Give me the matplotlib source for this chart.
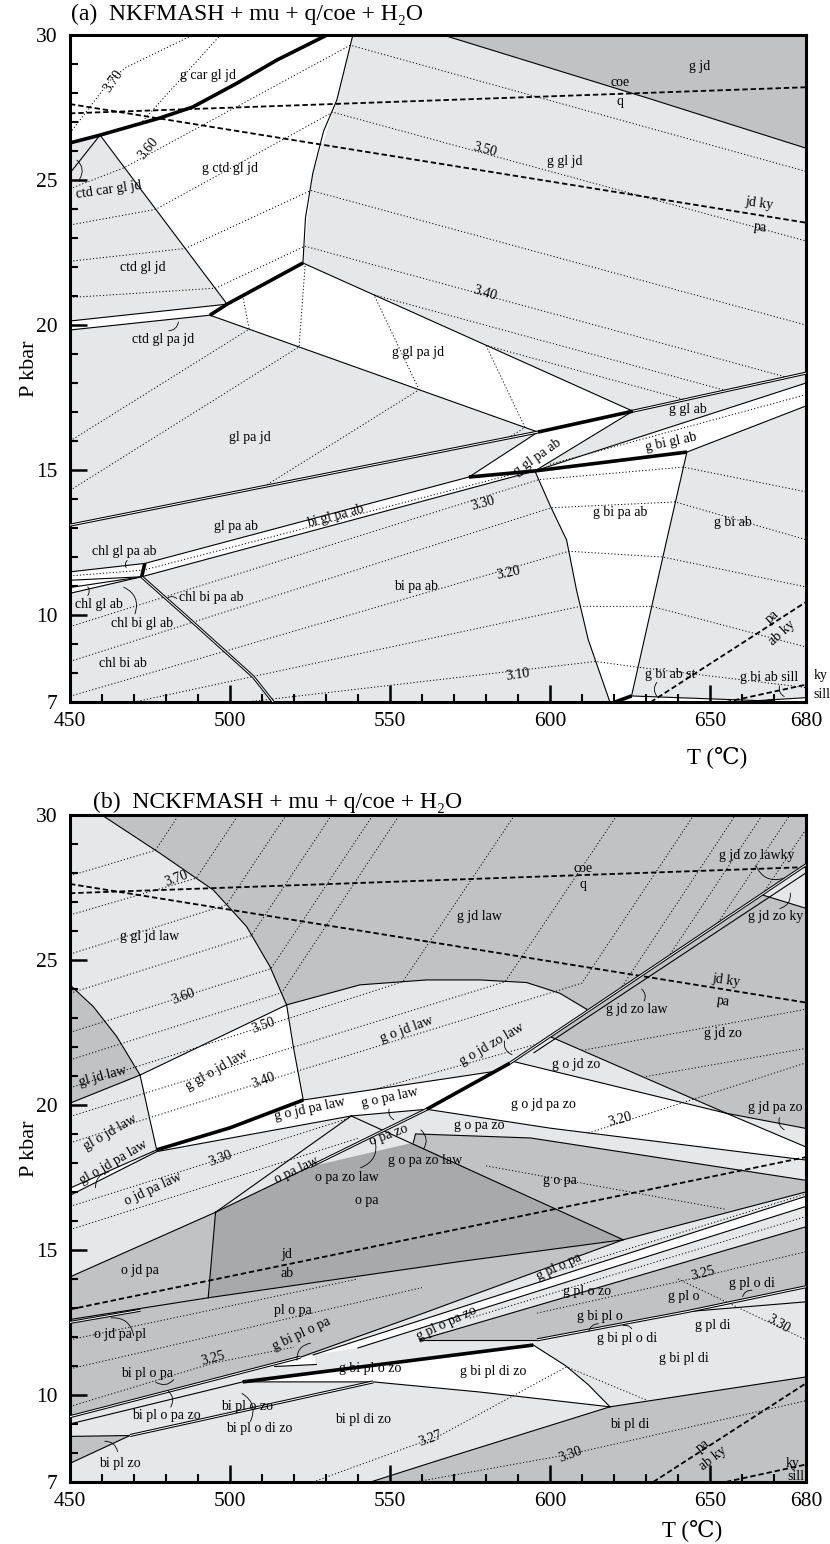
import numpy as np
import matplotlib
matplotlib.use("Agg")
import matplotlib.pyplot as plt
from matplotlib.patches import Polygon

plt.rcParams['font.family'] = ['Liberation Serif', 'DejaVu Serif', 'DejaVu Sans']

WHITE = '#ffffff'
LIGHT = '#e6e7e9'
MID = '#c1c2c4'
DARK = '#a8a9ab'

# ---------------- panel (a) : NKFMASH ----------------
# field polygons (T degC, P kbar)
a_g_car_gl_jd = [(450, 26.28), (459.4, 26.55), (478.1, 27.14), (488.4, 27.52), (502.2, 28.34),
                 (514.7, 29.14), (530.3, 30), (450, 30)]
a_g_ctd_gl_jd = [(459.4, 26.55), (478.1, 27.14), (488.4, 27.52), (502.2, 28.34), (514.7, 29.14),
                 (530.3, 30), (538.4, 30), (533.4, 27.76), (525.9, 25.24), (522.8, 22.14), (499.1, 20.72)]
a_ctd_gl_pa_jd = [(450, 20.14), (499.1, 20.72), (493.75, 20.34), (450, 19.83)]
a_g_gl_pa_jd = [(493.75, 20.34), (499.1, 20.72), (522.8, 22.14), (625.9, 17.03), (596.25, 16.31)]
a_g_gl_pa_ab = [(574.7, 14.76), (596.25, 16.31), (625.9, 17.03), (595.3, 14.97)]
a_g_bi_gl_ab = [(595.3, 14.97), (680, 18.0), (680, 17.21), (642.8, 15.62)]
a_bi_gl_pa_ab = [(473.4, 11.78), (574.7, 14.76), (595.3, 14.97), (472.4, 11.32)]
a_chl_strip = [(450, 11.49), (473.4, 11.78), (472.4, 11.32), (450, 10.75)]
a_g_bi_pa_ab = [(595.3, 14.97), (642.8, 15.62), (636.5, 12.59), (625.5, 7.21), (620.3, 7.0),
                (618.75, 7.0), (612, 9.14), (608.3, 10.86), (605.2, 12.59), (600, 13.79)]
a_g_bi_ab_st = [(625.5, 7.21), (665, 7.05), (680, 7.15), (680, 7.0), (620.3, 7.0)]
a_g_jd = [(566.6, 30), (680, 30), (680, 26.1), (631.3, 27.8)]

# boundaries
a_thick = [
    [(450, 26.28), (459.4, 26.55), (478.1, 27.14), (488.4, 27.52), (502.2, 28.34), (514.7, 29.14), (530.3, 30)],
    [(493.75, 20.34), (499.1, 20.72), (522.8, 22.14)],
    [(596.25, 16.31), (625.9, 17.03)],
    [(574.7, 14.76), (595.3, 14.97), (642.8, 15.62)],
    [(473.4, 11.78), (472.4, 11.32)],
    [(625.5, 7.21), (620.3, 7.0)],
    [(665.6, 6.97), (669.7, 7.05)],
]
a_thin = [
    [(459.4, 26.55), (450, 25.24)],
    [(459.4, 26.55), (499.1, 20.72)],
    [(450, 20.14), (499.1, 20.72)],
    [(450, 19.83), (493.75, 20.34)],
    [(522.8, 22.14), (523.6, 23.7), (525.9, 25.24), (529.3, 26.7), (533.4, 27.76), (538.4, 30)],
    [(522.8, 22.14), (625.9, 17.03)],
    [(493.75, 20.34), (596.25, 16.31)],
    [(574.7, 14.76), (596.25, 16.31)],
    [(625.9, 17.03), (595.3, 14.97)],
    [(595.3, 14.97), (680, 18.0)],
    [(642.8, 15.62), (680, 17.21)],
    [(473.4, 11.78), (574.7, 14.76)],
    [(472.4, 11.32), (595.3, 14.97)],
    [(450, 11.49), (473.4, 11.78)],
    [(450, 11.2), (472.4, 11.32)],
    [(450, 10.95), (472.4, 11.32)],
    [(450, 10.75), (472.4, 11.32)],
    [(595.3, 14.97), (600, 13.79), (605.2, 12.59), (608.3, 10.86), (612, 9.14), (618.75, 7.0)],
    [(642.8, 15.62), (636.5, 12.59), (625.5, 7.21)],
    [(625.5, 7.21), (665, 7.05), (680, 7.15)],
    [(566.6, 30), (631.3, 27.8), (680, 26.1)],
]
a_double = [
    [(450, 13.10), (596.25, 16.31)],
    [(625.9, 17.03), (680, 18.34)],
    [(472.4, 11.32), (486.5, 9.94), (507.3, 7.87), (513.5, 7.0)],
]
# reaction lines
coe_q = [(450, 27.3), (680, 28.2)]
jdky_pa = [(450, 27.62), (680, 23.53)]
pa_abky = [(631.5, 7.0), (680, 10.45)]
ky_sill = [(655, 7.0), (680, 7.6)]
jd_ab = [(450, 12.95), (680, 18.2)]

# Si-in-phengite isopleths (a)
a_iso = [
    [(450, 26.62), (463, 28.5), (467.8, 28.9), (488.4, 30)],
    [(472, 26.94), (497, 30)],
    [(450, 24.7), (467, 25.43), (537.6, 29.65), (680, 25.3)],
    [(450, 23.45), (476.8, 23.99), (532.1, 27.34), (680, 22.9)],
    [(450, 22.2), (486, 22.64), (525.3, 24.64), (680, 20.0)],
    [(450, 20.95), (495.5, 21.27), (523.4, 22.72), (674, 18.2)],
    [(450, 16.0), (506, 19.86), (504, 21.0)],
    [(450, 14.3), (521.6, 19.25), (523.5, 22.08)],
    [(510.8, 14.44), (559.1, 17.77), (545, 21.04), (655, 17.74)],
    [(587, 16.11), (592.2, 16.47), (580, 19.3), (642.3, 17.42)],
    [(450, 11.35), (473, 11.55), (590, 14.9)],
    [(600, 15.2), (680, 17.6)],
    [(450, 9.6), (596.5, 14.67), (641.7, 15.1), (680, 14.25)],
    [(450, 8.4), (600.4, 13.7), (639.2, 13.9), (680, 12.6)],
    [(450, 7.2), (605.9, 12.2), (635.3, 12.0), (680, 10.97)],
    [(470, 7.0), (609.5, 10.3), (631.8, 10.3), (680, 8.9)],
    [(505, 7.0), (614.3, 8.4), (627.5, 8.2), (680, 7.5)],
]
# labels: (text, T, P, rotation)
a_labels = [
    ('g car gl jd', 493, 28.6, 0), ('3.70', 463.5, 28.4, 55), ('3.60', 474.5, 26.1, 50),
    ('g ctd gl jd', 500, 25.4, 0), ('ctd car gl jd', 462, 24.65, 8), ('ctd gl jd', 472.8, 21.97, 0),
    ('ctd gl pa jd', 479, 19.5, 0), ('g gl pa jd', 558.75, 19.07, 0), ('g gl jd', 604.7, 25.63, 0),
    ('g jd', 646.9, 28.93, 0), ('coe', 622, 28.35, 0), ('q', 622, 27.7, 0),
    ('3.50', 579.7, 26.05, -15), ('3.40', 579.7, 21.1, -17), ('jd ky', 665.6, 24.2, -8),
    ('pa', 665.6, 23.35, -8), ('gl pa jd', 506.25, 16.13, 0), ('gl pa ab', 501.9, 13.05, 0),
    ('g gl pa ab', 596, 15.45, 35), ('g gl ab', 643, 17.1, 0), ('g bi gl ab', 638, 15.95, 12),
    ('bi gl pa ab', 533, 13.4, 15), ('3.30', 579, 13.85, 15), ('g bi pa ab', 621.9, 13.52, 0),
    ('g bi ab', 657.2, 13.2, 0), ('bi pa ab', 558, 11.0, 0), ('3.20', 587, 11.45, 12),
    ('3.10', 590, 7.95, 8), ('chl gl pa ab', 467, 12.2, 0), ('chl gl ab', 459, 10.35, 0),
    ('chl bi gl ab', 472.5, 9.7, 0), ('chl bi pa ab', 494, 10.6, 0), ('chl bi ab', 466.7, 8.33, 0),
    ('g bi ab st', 637.5, 7.95, 0), ('g bi ab sill', 668.5, 7.85, 0),
    ('pa', 669.5, 9.95, 42), ('ab ky', 672.5, 9.4, 42),
]
a_leaders = [((452.5, 24.95), (451.5, 25.75)), ((480, 19.8), (484, 20.2)), ((468.5, 11.95), (468, 11.55)),
             ((455, 10.6), (455, 11.05)), ((470, 9.95), (466, 11.0)), ((484, 10.5), (480, 10.55)),
             ((634, 7.75), (634, 7.13)), ((672, 7.65), (674, 7.15))]
a_outside = [('ky', 682.4, 7.9), ('sill', 682.4, 7.25)]

# ---------------- panel (b) : NCKFMASH ----------------
b_g_jd_law = [(459.9, 30), (680, 30), (680, 28.28), (611.5, 23.25), (603.1, 23.85), (592.7, 24.22),
              (578.1, 24.31), (561.5, 24.31), (540.6, 24.14), (517.7, 23.45), (512.5, 24.77),
              (505.2, 26.15), (494.8, 27.41), (478.1, 28.68)]
b_gl_jd_law = [(450, 24.14), (457.3, 23.39), (464.6, 22.36), (471.9, 21.03), (450, 20.06)]
b_g_gl_o_jd_law = [(471.9, 21.03), (517.7, 23.45), (519.8, 22.01), (522.9, 20.17), (500, 19.21),
                   (477.1, 18.45), (475, 19.48)]
b_gl_o_jd_pa_law = [(450, 17.13), (477.1, 18.45), (450, 16.88)]
b_g_o_pa_law = [(477.1, 18.45), (500, 19.21), (522.9, 20.17), (582.3, 21.15), (561.5, 19.85),
                (537.9, 19.62), (477.1, 18.39)]
b_o_jd_pa = [(450, 14.07), (495.5, 16.3), (493.2, 13.35), (450, 12.6)]
b_o_pa = [(495.5, 16.3), (525, 17.87), (557.3, 18.7), (622.9, 15.35), (571.9, 14.6), (493.2, 13.35)]
b_g_o_pa = [(558, 19.0), (594, 18.86), (680, 17.4), (680, 17.0), (622.9, 15.35), (557.3, 18.7)]
b_g_o_jd_pa_zo = [(561.5, 19.85), (587.5, 21.44), (588.5, 21.5), (655.2, 19.71), (680, 18.55),
                  (680, 18.1), (600, 19.2)]
b_g_jd_zo = [(600, 22.36), (666.7, 27.23), (680, 26.78), (680, 19.19), (655.2, 19.71)]
b_pl_o_pa = [(450, 12.6), (493.2, 13.35), (571.9, 14.6), (622.9, 15.35), (560, 12.8), (522, 11.3), (450, 9.25)]
b_g_pl_o_pa_zo = [(526, 11.38), (680, 16.85), (680, 16.5), (540, 11.62)]
b_g_pl_o = [(559.4, 11.9), (680, 15.8), (680, 13.73), (642.7, 12.87), (596, 11.9)]
b_g_bi_pl_zo = [(504, 10.45), (594.8, 11.72), (605, 11.0), (612, 10.35), (618.75, 9.59),
                (578.1, 10.1), (544.8, 10.45)]
b_g_bi_pl_o_pa = [(514, 10.98), (526, 11.38), (527, 11.05)]
b_bi_pl_zo = [(450, 8.57), (468.75, 8.6), (450, 7.64)]
b_bi_pl_di = [(544, 7.0), (565.6, 7.76), (618.75, 9.59), (680, 10.62), (680, 7.0)]

b_thick = [
    [(477.1, 18.45), (500, 19.21), (522.9, 20.17)],
    [(561.5, 19.85), (587.5, 21.44)],
    [(504, 10.45), (594.8, 11.72)],
]
b_thin = [
    [(459.9, 30.0), (478.1, 28.68), (494.8, 27.41), (505.2, 26.15), (512.5, 24.77), (517.7, 23.45)],
    [(517.7, 23.45), (540.6, 24.14), (561.5, 24.31), (578.1, 24.31), (592.7, 24.22), (603.1, 23.85), (611.5, 23.3)],
    [(450, 24.14), (457.3, 23.39), (464.6, 22.36), (471.9, 21.03)],
    [(450, 20.06), (471.9, 21.03)],
    [(471.9, 21.03), (517.7, 23.45)],
    [(471.9, 21.03), (475, 19.48), (477.1, 18.45)],
    [(517.7, 23.45), (519.8, 22.01), (522.9, 20.17)],
    [(450, 17.13), (477.1, 18.45)],
    [(450, 16.88), (477.1, 18.39)],
    [(522.9, 20.17), (582.3, 21.15)],
    [(477.1, 18.39), (537.9, 19.62), (561.5, 19.85)],
    [(495.5, 16.3), (537.9, 19.62)],
    [(495.5, 16.3), (525, 17.87)],
    [(450, 14.07), (495.5, 16.3)],
    [(495.5, 16.3), (493.2, 13.35)],
    [(450, 12.6), (493.2, 13.35), (571.9, 14.6), (622.9, 15.35)],
    [(537.9, 19.62), (622.9, 15.35)],
    [(561.5, 19.85), (600, 19.2), (680, 18.1)],
    [(557.3, 18.7), (558, 19.0), (594, 18.86), (680, 17.4)],
    [(588.5, 21.5), (655.2, 19.71), (680, 19.19)],
    [(600, 22.36), (655.2, 19.71)],
    [(655.2, 19.71), (680, 18.55)],
    [(666.7, 27.23), (680, 26.78)],
    [(595, 21.8), (680, 28.0)],
    [(522, 11.3), (560, 12.8), (622.9, 15.35), (680, 17.0)],
    [(526, 11.38), (680, 16.85)],
    [(540, 11.62), (680, 16.5)],
    [(559.4, 11.9), (680, 15.8)],
    [(559.4, 11.9), (596, 11.9)],
    [(642.7, 12.87), (680, 13.21)],
    [(594.8, 11.72), (605, 11.0), (612, 10.35), (618.75, 9.59)],
    [(504, 10.45), (544.8, 10.45), (578.1, 10.1), (618.75, 9.59)],
    [(544, 7.0), (565.6, 7.76), (618.75, 9.59), (680, 10.62)],
    [(450, 8.57), (468.75, 8.6)],
    [(450, 7.64), (468.75, 8.6)],
    [(450, 9.0), (504, 10.45)],
    [(514, 10.98), (527, 11.05)],
]
b_double = [
    [(587.5, 21.44), (680, 28.28)],
    [(525, 17.87), (561.5, 19.85)],
    [(596, 11.9), (642.7, 12.87), (680, 13.73)],
    [(468.75, 8.6), (544.8, 10.45)],
    [(450, 9.25), (522, 11.3)],
    [(450, 12.5), (472, 12.92)],
]
pa_abky_b = [(632.3, 7.0), (680, 10.4)]
b_iso = [
    [(450, 27.9), (476.7, 28.78), (484, 30)],
    [(450, 26.55), (489.5, 27.82), (502.6, 30)],
    [(450, 25.2), (498.9, 26.9), (517.6, 30)],
    [(450, 23.85), (506.7, 25.84), (531.8, 30)],
    [(450, 22.5), (512.8, 24.7), (544.7, 30)],
    [(450, 21.55), (516.2, 23.87), (553, 30)],
    [(450, 20.59), (517.7, 22.96), (554, 24.25), (589, 30)],
    [(450, 19.6), (519.8, 21.99), (586, 24.25), (621, 30)],
    [(450, 18.69), (522.9, 21.23), (610, 24.2), (645, 30)],
    [(545, 20.53), (596, 22.1)],
    [(622, 23.99), (658, 30)],
    [(637, 25.1), (666.4, 30)],
    [(652, 26.2), (675, 30)],
    [(666, 27.2), (680, 29.5)],
    [(450, 16.5), (537.5, 19.55)],
    [(450, 15.7), (540, 18.85)],
    [(580, 17.9), (655, 16.4)],
    [(612, 19.03), (680, 21.45)],
    [(630, 20.98), (680, 21.95)],
    [(610, 21.88), (680, 23.3)],
    [(450, 9.6), (494.8, 11.1), (520, 11.65)],
    [(450, 10.9), (560, 13.7)],
    [(450, 11.9), (540, 14.0)],
    [(600, 14.2), (680, 16.93)],
    [(575, 12.65), (680, 16.15)],
    [(596, 12.82), (648, 14.1), (680, 14.94)],
    [(640, 14.0), (658.3, 13.04), (680, 11.9)],
    [(526, 7.0), (565.6, 8.6), (605.2, 10.97), (630, 9.83)],
    [(558, 7.0), (606, 7.95), (680, 9.8)],
]
b_labels = [
    ('g gl jd law', 475, 25.8, 0), ('3.70', 483.3, 27.8, 20), ('3.60', 485.4, 23.75, 20),
    ('g jd law', 578, 26.5, 0), ('gl jd law', 460.4, 21.0, 15), ('g gl o jd law', 496, 21.2, 30),
    ('3.50', 510.4, 22.75, 20), ('3.40', 510.4, 20.85, 20), ('g o jd law', 555.2, 22.6, 20),
    ('g o jd zo law', 582, 22.1, 30), ('gl o jd law', 462.5, 19.05, 30),
    ('gl o jd pa law', 463.5, 18.0, 30), ('o jd pa law', 476, 17.1, 25), ('3.30', 497, 18.15, 20),
    ('g o jd pa law', 525, 19.85, 12), ('g o pa law', 550, 20.25, 12), ('o pa law', 520.8, 17.75, 25),
    ('o pa zo', 549.5, 18.95, 20), ('o pa zo law', 536.5, 17.5, 0), ('g o pa zo law', 561, 18.1, 0),
    ('g o pa zo', 578, 19.3, 0), ('o pa', 542.7, 16.7, 0), ('jd', 517.7, 14.85, 0), ('ab', 517.7, 14.2, 0),
    ('o jd pa', 471.9, 14.3, 0), ('pl o pa', 519.8, 12.9, 0), ('o jd pa pl', 465.6, 12.1, 0),
    ('g bi pl o pa', 522.5, 12.1, 25), ('g pl o pa', 603, 14.4, 25), ('g pl o pa zo', 567.7, 12.45, 25),
    ('g pl o zo', 611.5, 13.55, 0), ('3.25', 647.9, 14.2, 15), ('g pl o', 641.7, 13.4, 0),
    ('g pl o di', 663, 13.85, 0), ('g bi pl o', 615.6, 12.7, 0), ('g pl di', 651, 12.4, 0),
    ('3.30', 671.5, 12.45, -30), ('g bi pl o di', 624, 11.95, 0), ('g bi pl di', 641.7, 11.25, 0),
    ('g bi pl di zo', 582.3, 10.8, 0), ('g bi pl o zo', 543.75, 10.9, 0), ('bi pl o pa', 474, 10.74, 0),
    ('3.25', 494.8, 11.25, 15), ('bi pl o zo', 505.2, 9.6, 0), ('bi pl o pa zo', 480.2, 9.3, 0),
    ('bi pl o di zo', 509, 8.85, 0), ('bi pl di zo', 541.7, 9.14, 0), ('3.27', 562.5, 8.5, 20),
    ('bi pl zo', 465.6, 7.65, 0), ('bi pl di', 625, 8.97, 0), ('3.30', 606.25, 7.95, 20),
    ('pa', 647.9, 8.25, 38), ('ab ky', 651, 7.8, 38), ('ky', 676, 7.65, 0), ('sill', 677, 7.2, 0),
    ('g o jd zo', 608.3, 21.4, 0), ('g o jd pa zo', 597.9, 20.0, 0), ('3.20', 621.9, 19.5, 15),
    ('g jd zo', 654.2, 22.47, 0), ('g jd zo law', 627.1, 23.3, 0), ('jd ky', 655.2, 24.3, -8),
    ('pa', 654.2, 23.55, -8), ('coe', 610.4, 28.15, 0), ('q', 610.4, 27.6, 0),
    ('g jd zo lawky', 664.6, 28.6, 0), ('g jd zo ky', 670.5, 26.5, 0), ('g jd pa zo', 670.5, 19.9, 0),
    ('g o pa', 603.1, 17.4, 0),
]
b_leaders = [((463, 17.7), (458, 17.05)), ((550, 19.95), (552, 19.45)), ((540, 17.8), (545, 18.9)),
             ((560, 18.4), (559, 19.2)), ((470, 11.95), (462, 12.65)), ((526, 11.8), (521, 11.1)),
             ((664, 13.6), (660, 13.3)), ((616, 12.45), (612, 12.1)), ((626, 12.2), (622, 12.35)),
             ((476, 10.5), (483, 10.6)), ((481, 9.5), (480, 10.2)), ((506, 9.0), (503, 10.1)),
             ((465, 7.95), (460, 8.4)), ((629, 23.5), (628, 24.05)), ((586, 22.3), (589, 21.7)),
             ((664, 28.35), (674, 27.85)), ((671, 26.75), (675, 27.4)), ((672, 19.65), (674, 19.1))]

FS = 10


def draw_panel(ax, fills, thick, thin, double, dashed, iso, labels, leaders):
    ax.add_patch(Polygon([(450, 7), (680, 7), (680, 30), (450, 30)], closed=True,
                         facecolor=LIGHT, edgecolor='none', zorder=0))
    for pts, col in fills:
        ax.add_patch(Polygon(pts, closed=True, facecolor=col, edgecolor='none', zorder=1))
    for pts in iso:
        t, p = zip(*pts)
        ax.plot(t, p, color='k', lw=0.7, ls=(0, (1.2, 2.2)), zorder=2)
    for pts in dashed:
        t, p = zip(*pts)
        ax.plot(t, p, color='k', lw=1.3, ls=(0, (3, 1.6)), zorder=3)
    for pts in thin:
        t, p = zip(*pts)
        ax.plot(t, p, color='k', lw=0.8, zorder=4)
    for pts in double:
        t, p = zip(*pts)
        ax.plot(t, p, color='k', lw=2.2, zorder=4, solid_capstyle='butt')
        ax.plot(t, p, color='white', lw=0.7, zorder=4.1, solid_capstyle='butt')
    for pts in thick:
        t, p = zip(*pts)
        ax.plot(t, p, color='k', lw=2.6, zorder=5, solid_capstyle='butt')
    for s, t, p, r in labels:
        ax.text(t, p, s, ha='center', va='center', fontsize=FS, rotation=r,
                rotation_mode='anchor', zorder=6)
    for (x0, y0), (x1, y1) in leaders:
        ax.annotate('', xy=(x1, y1), xytext=(x0, y0),
                    arrowprops=dict(arrowstyle='-', lw=0.6, color='k',
                                    connectionstyle='arc3,rad=0.5'), zorder=6)
    ax.set_xlim(450, 680)
    ax.set_ylim(7, 30)
    ax.set_xticks([450, 500, 550, 600, 650, 680])
    ax.set_xticks(np.arange(450, 681, 10), minor=True)
    ax.set_yticks([7, 10, 15, 20, 25, 30])
    ax.set_yticks(np.arange(7, 31, 1), minor=True)
    ax.tick_params(which='major', direction='in', length=12, width=1.8, labelsize=15.5, pad=7)
    ax.tick_params(which='minor', direction='in', length=6, width=1.5)
    ax.tick_params(axis='y', which='major', pad=9)
    for sp in ax.spines.values():
        sp.set_linewidth(2.2)
    ax.set_ylabel('P kbar', fontsize=16, labelpad=-2)


fig = plt.figure(figsize=(8.3, 15.44), dpi=100)
ax1 = fig.add_axes([0.0843, 0.5453, 0.8867, 0.4320])
ax2 = fig.add_axes([0.0843, 0.0402, 0.8867, 0.4320])

a_fills = [(a_g_car_gl_jd, WHITE), (a_g_ctd_gl_jd, WHITE), (a_ctd_gl_pa_jd, WHITE), (a_g_gl_pa_jd, WHITE),
           (a_g_gl_pa_ab, WHITE), (a_g_bi_gl_ab, WHITE), (a_bi_gl_pa_ab, WHITE), (a_chl_strip, WHITE),
           (a_g_bi_pa_ab, WHITE), (a_g_bi_ab_st, WHITE), (a_g_jd, MID)]
draw_panel(ax1, a_fills, a_thick, a_thin, a_double, [coe_q, jdky_pa, pa_abky, ky_sill],
           a_iso, a_labels, a_leaders)
for s, t, p in a_outside:
    ax1.text(t, p, s, ha='left', va='center', fontsize=FS, clip_on=False)

b_fills = [(b_g_jd_law, MID), (b_gl_jd_law, MID), (b_g_gl_o_jd_law, WHITE), (b_gl_o_jd_pa_law, WHITE),
           (b_g_o_pa_law, WHITE), (b_o_jd_pa, MID), (b_o_pa, DARK), (b_g_o_pa, MID),
           (b_g_o_jd_pa_zo, WHITE), (b_g_jd_zo, MID), (b_pl_o_pa, MID), (b_g_pl_o_pa_zo, WHITE),
           (b_g_pl_o, MID), (b_g_bi_pl_zo, WHITE), (b_g_bi_pl_o_pa, WHITE), (b_bi_pl_zo, MID),
           (b_bi_pl_di, MID)]
draw_panel(ax2, b_fills, b_thick, b_thin, b_double, [coe_q, jdky_pa, jd_ab, pa_abky_b, ky_sill],
           b_iso, b_labels, b_leaders)

ax1.text(0.88, -0.083, 'T (\u2103)', transform=ax1.transAxes, ha='center', va='center', fontsize=16.5)
ax2.text(0.845, -0.072, 'T (\u2103)', transform=ax2.transAxes, ha='center', va='center', fontsize=16.5)
fig.text(0.086, 0.9905, '(a)  NKFMASH + mu + q/coe + H\u2082O', fontsize=17, ha='left', va='center')
fig.text(0.112, 0.4805, '(b)  NCKFMASH + mu + q/coe + H\u2082O', fontsize=17, ha='left', va='center')

fig.savefig('out.png', dpi=100)
